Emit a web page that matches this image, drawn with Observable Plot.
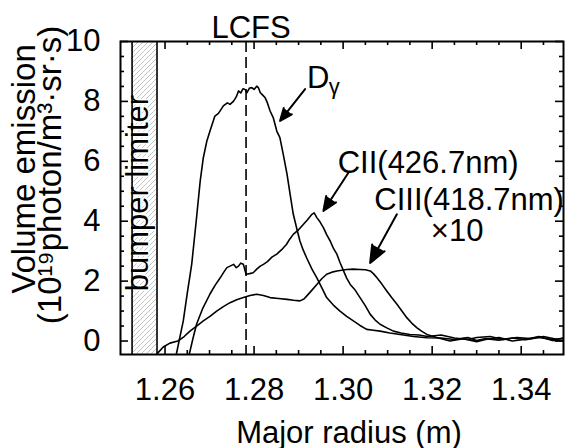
<!DOCTYPE html>
<html><head><meta charset="utf-8">
<script src="https://cdn.jsdelivr.net/npm/d3@7"></script>
<script src="https://cdn.jsdelivr.net/npm/@observablehq/plot@0.6"></script>
<style>
body{margin:0;background:#fff;}
g[aria-label="ylabel"] text{letter-spacing:1.5px;}
</style></head><body><div id="chart"></div>
<script>
// ---- data (major radius m, volume emission 1e19 photon/m^3/sr/s) ----
const dGamma = [[1.2625,-0.47],[1.2641,0.67],[1.2650,1.6],[1.2660,2.57],[1.2670,4.0],[1.2679,5.34],[1.2686,6.12],[1.2694,6.68],[1.2701,7.01],[1.2712,7.51],[1.2720,7.6],[1.2731,7.85],[1.2740,7.95],[1.2746,7.9],[1.2754,8.01],[1.2760,8.15],[1.2765,8.35],[1.2770,8.28],[1.2775,8.42],[1.2780,8.40],[1.2784,8.29],[1.2790,8.45],[1.2795,8.46],[1.2800,8.40],[1.2806,8.51],[1.2810,8.45],[1.2814,8.29],[1.2820,8.20],[1.2825,8.12],[1.2830,7.95],[1.2836,7.68],[1.2843,7.46],[1.2851,7.01],[1.2858,6.79],[1.2866,6.2],[1.2874,5.57],[1.2881,4.9],[1.2888,4.24],[1.2896,3.75],[1.2903,3.34],[1.2910,3.05],[1.2918,2.78],[1.2930,2.4],[1.2941,2.11],[1.2952,1.78],[1.2963,1.45],[1.2978,1.2],[1.2993,1.00],[1.3008,0.82],[1.3023,0.67],[1.3038,0.52],[1.3053,0.39],[1.3068,0.36],[1.3083,0.33],[1.3105,0.27],[1.3128,0.22],[1.3158,0.15],[1.3188,0.11],[1.3220,0.10],[1.3250,0.05],[1.3280,0.12],[1.3300,0.02],[1.3320,0.08],[1.3350,0.03],[1.3380,0.10],[1.3410,0.04],[1.3440,0.12],[1.3470,0.05],[1.3495,0.08]];
const cII = [[1.2654,-0.47],[1.2663,0.1],[1.2671,0.57],[1.2685,1.1],[1.2701,1.57],[1.2712,1.85],[1.2724,2.11],[1.2732,2.3],[1.2739,2.45],[1.2746,2.5],[1.2754,2.56],[1.2760,2.45],[1.2765,2.50],[1.2770,2.6],[1.2776,2.56],[1.2782,2.23],[1.2790,2.25],[1.2798,2.28],[1.2806,2.4],[1.2814,2.5],[1.2821,2.56],[1.2830,2.65],[1.2840,2.8],[1.2851,2.90],[1.2862,3.05],[1.2873,3.23],[1.2880,3.4],[1.2888,3.56],[1.2899,3.7],[1.2911,3.90],[1.2920,4.05],[1.2930,4.23],[1.2935,4.28],[1.2941,4.12],[1.2948,3.98],[1.2956,3.78],[1.2963,3.55],[1.2971,3.34],[1.2978,3.1],[1.2986,2.90],[1.2993,2.62],[1.3001,2.34],[1.3008,2.1],[1.3016,1.89],[1.3027,1.7],[1.3038,1.45],[1.3049,1.2],[1.3061,0.89],[1.3072,0.7],[1.3083,0.56],[1.3098,0.44],[1.3113,0.33],[1.3130,0.27],[1.3150,0.22],[1.3170,0.2],[1.3190,0.15],[1.3220,0.20],[1.3250,0.10],[1.3280,0.05],[1.3300,0.12],[1.3330,0.15],[1.3360,0.05],[1.3390,0.12],[1.3420,0.08],[1.3450,0.15],[1.3480,0.06],[1.3495,0.10]];
const cIIIx10 = [[1.2582,-0.43],[1.2596,-0.20],[1.2611,-0.07],[1.2629,0.0],[1.2643,0.15],[1.2656,0.33],[1.2671,0.5],[1.2686,0.67],[1.2701,0.82],[1.2716,1.00],[1.2731,1.15],[1.2746,1.28],[1.2761,1.38],[1.2776,1.45],[1.2791,1.52],[1.2806,1.56],[1.2821,1.52],[1.2836,1.45],[1.2855,1.42],[1.2874,1.39],[1.2889,1.36],[1.2903,1.34],[1.2912,1.40],[1.2918,1.50],[1.2930,1.7],[1.2941,1.89],[1.2952,2.08],[1.2963,2.23],[1.2975,2.3],[1.2986,2.34],[1.3008,2.39],[1.3023,2.40],[1.3038,2.39],[1.3050,2.38],[1.3061,2.34],[1.3068,2.25],[1.3076,2.11],[1.3087,1.9],[1.3098,1.67],[1.3109,1.45],[1.3121,1.23],[1.3132,1.0],[1.3143,0.78],[1.3154,0.6],[1.3166,0.44],[1.3177,0.32],[1.3188,0.22],[1.3210,0.12],[1.3240,0.0],[1.3270,0.08],[1.3300,-0.02],[1.3320,0.05],[1.3350,0.12],[1.3380,0.0],[1.3410,0.06],[1.3440,0.15],[1.3470,0.02],[1.3495,0.0]];

const xMajorTicks = [1.26, 1.28, 1.30, 1.32, 1.34];
const xMinorTicks = [1.265, 1.27, 1.275, 1.285, 1.29, 1.295, 1.305, 1.31, 1.315, 1.325, 1.33, 1.335, 1.345];
const yMajorTicks = [0, 2, 4, 6, 8, 10];
const yMinorTicks = [0.5, 1, 1.5, 2.5, 3, 3.5, 4.5, 5, 5.5, 6.5, 7, 7.5, 8.5, 9, 9.5];

const xDomain = [1.25, 1.3495];
const yDomain = [-0.45, 10];

const bumperLimiter = [{x1: 1.2526, x2: 1.2582}];
const bumperEdges = [1.2526, 1.2582];
const lcfs = [1.2782];

const labelTexts = ["D", "γ", "CII(426.7nm)", "CIII(418.7nm)", "×10", "bumper limiter"];
const labelX = [1.2944, 1.2980, 1.3191, 1.3283, 1.3256, 1.2539];
const labelY = [8.78, 8.48, 5.94, 4.70, 3.68, 4.94];

const arrowFromX = [1.29146, 1.30119, 1.31207];
const arrowFromY = [8.41, 5.62, 4.23];
const arrowToX = [1.28584, 1.29557, 1.30607];
const arrowToY = [7.35, 4.34, 2.61];

const xLabel = "Major radius (m)";
const yLabel1 = "Volume emission";
const yLabel2 = "(10¹⁹photon/m³·sr·s)";

// ---- build ----
const rows = [
  ...dGamma.map(([x, y]) => ({series: "Dγ", x, y})),
  ...cII.map(([x, y]) => ({series: "CII", x, y})),
  ...cIIIx10.map(([x, y]) => ({series: "CIII", x, y}))
];
const labels = labelTexts.map((text, i) => ({text, x: labelX[i], y: labelY[i]}));
const arrows = arrowFromX.map((x1, i) => ({x1, y1: arrowFromY[i], x2: arrowToX[i], y2: arrowToY[i]}));
const yMid = (yDomain[0] + yDomain[1]) / 2;

const W = 567 - 120 - 4, H = 448 - 41 - 94;

const chart = Plot.plot({
  width: 567, height: 448,
  marginLeft: 120, marginRight: 4, marginTop: 41, marginBottom: 94,
  style: {fontFamily: "'Liberation Sans', Arial, Helvetica, sans-serif", fontSize: "31px", color: "black", background: "white", overflow: "visible"},
  x: {domain: xDomain, ticks: xMajorTicks, tickFormat: d3.format(".2f"), tickSize: 0, tickPadding: 23, label: null},
  y: {domain: yDomain, ticks: yMajorTicks, tickFormat: d3.format("d"), tickSize: 0, tickPadding: 20, label: null},
  marks: [
    Plot.rect(bumperLimiter, {x1: "x1", x2: "x2", fill: "url(#hatch)"}),
    Plot.text(labels.slice(5), {x: "x", y: "y", text: "text", rotate: -90, fontSize: 31, fill: "black", stroke: "white", strokeWidth: 3}),
    Plot.ruleX(bumperEdges, {stroke: "black", strokeWidth: 1.6}),
    Plot.ruleX(lcfs, {stroke: "black", strokeWidth: 1.6, strokeDasharray: "11,5"}),
    Plot.text(lcfs, {x: d => d, text: () => "LCFS", frameAnchor: "top", lineAnchor: "bottom", dy: -4, dx: 5}),
    // inward ticks
    Plot.ruleX(xMinorTicks, {insetTop: H - 4, strokeWidth: 1.6}),
    Plot.ruleX(xMinorTicks, {insetBottom: H - 4, strokeWidth: 1.6}),
    Plot.ruleX(xMajorTicks, {insetTop: H - 8, strokeWidth: 1.6}),
    Plot.ruleX(xMajorTicks, {insetBottom: H - 8, strokeWidth: 1.6}),
    Plot.ruleY(yMinorTicks, {insetRight: W - 4, strokeWidth: 1.6}),
    Plot.ruleY(yMinorTicks, {insetLeft: W - 4, strokeWidth: 1.6}),
    Plot.ruleY(yMajorTicks, {insetRight: W - 8, strokeWidth: 1.6}),
    Plot.ruleY(yMajorTicks, {insetLeft: W - 8, strokeWidth: 1.6}),
    Plot.line(rows, {x: "x", y: "y", z: "series", stroke: "black", strokeWidth: 1.6, clip: true}),
    Plot.arrow(arrows, {x1: "x1", y1: "y1", x2: "x2", y2: "y2", stroke: "black", fill: "black", strokeWidth: 2, headLength: 14, headAngle: 45}),
    Plot.text(labels.slice(0, 1), {x: "x", y: "y", text: "text", fontSize: 31}),
    Plot.text(labels.slice(1, 2), {x: "x", y: "y", text: "text", fontSize: 22}),
    Plot.text(labels.slice(2, 5), {x: "x", y: "y", text: "text", fontSize: 31}),
    Plot.text([xLabel], {frameAnchor: "bottom", lineAnchor: "bottom", dy: 88, dx: 7}),
    Plot.text([yLabel1], {x: () => xDomain[0], y: () => yMid, text: d => d, rotate: -90, dx: -96, dy: -29, fontSize: 33, ariaLabel: "ylabel"}),
    Plot.text([yLabel2], {x: () => xDomain[0], y: () => yMid, text: d => d, rotate: -90, dx: -70, dy: -23, fontSize: 33, ariaLabel: "ylabel"}),
    Plot.frame({stroke: "black", strokeWidth: 2})
  ]
});

const ns = "http://www.w3.org/2000/svg";
const defs = document.createElementNS(ns, "defs");
defs.innerHTML = '<pattern id="hatch" patternUnits="userSpaceOnUse" width="5" height="5"><path d="M-1,1 L1,-1 M0,5 L5,0 M4,6 L6,4" stroke="#aaa" stroke-width="0.7"/></pattern>';
chart.insertBefore(defs, chart.firstChild);
document.getElementById("chart").appendChild(chart);
</script></body></html>
